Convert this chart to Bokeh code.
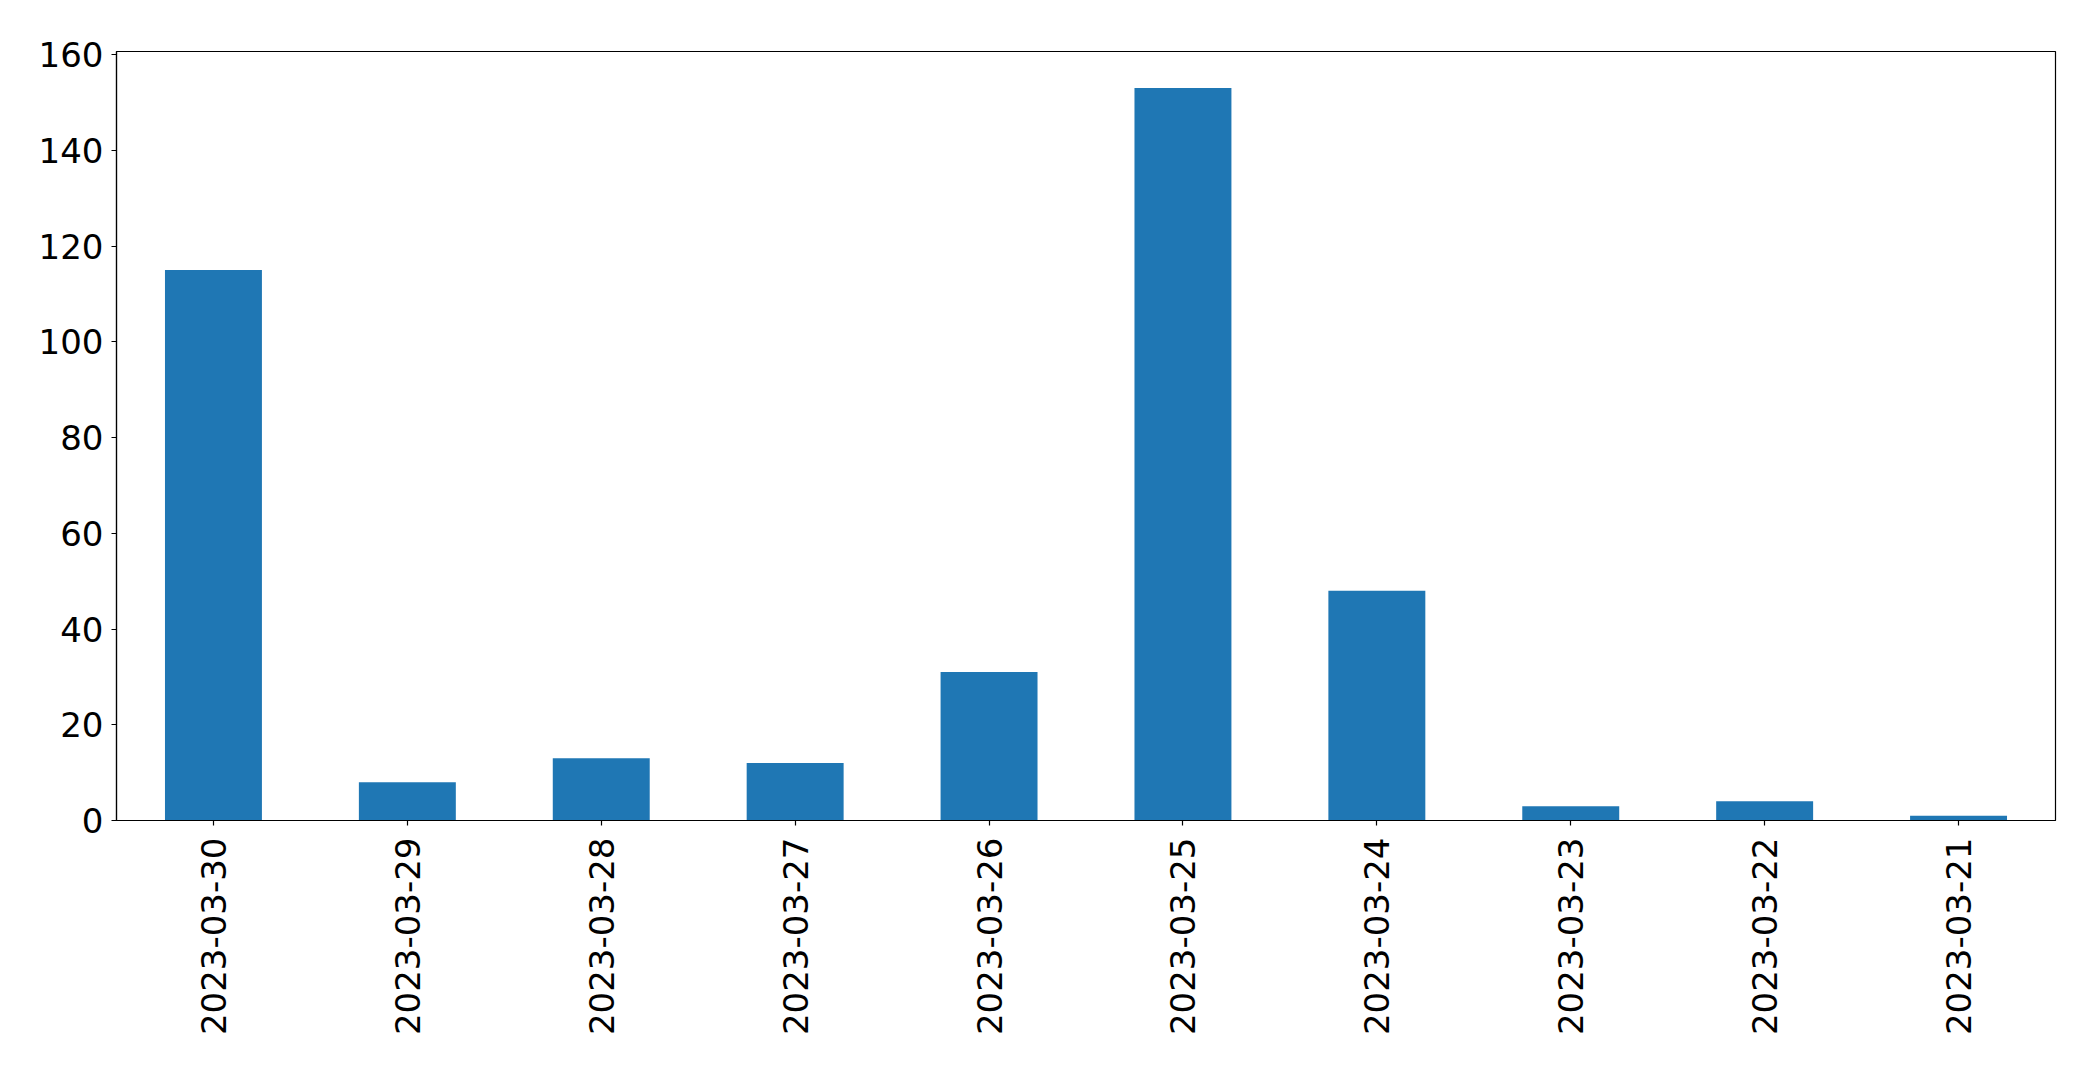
import math
from bokeh.plotting import figure
from bokeh.models import FactorRange, Range1d, FixedTicker, ColumnDataSource
from bokeh.embed import file_html
from bokeh.resources import INLINE

dates = ["2023-03-30", "2023-03-29", "2023-03-28", "2023-03-27", "2023-03-26",
         "2023-03-25", "2023-03-24", "2023-03-23", "2023-03-22", "2023-03-21"]
counts = [115, 8, 13, 12, 31, 153, 48, 3, 4, 1]
y_ticks = [0, 20, 40, 60, 80, 100, 120, 140, 160]

src = ColumnDataSource(dict(x=dates, top=counts))

p = figure(width=2077, height=1056, output_backend="svg", toolbar_location=None,
           x_range=FactorRange(*dates, range_padding=0),
           y_range=Range1d(0, max(counts) * 1.05),
           min_border_left=116, min_border_top=51, min_border_right=22, min_border_bottom=236)

p.vbar(x="x", top="top", width=0.5, source=src, color="#1f77b4", line_color=None)

p.xgrid.visible = False
p.ygrid.visible = False
p.outline_line_color = "black"
p.outline_line_width = 1.2
p.outline_line_alpha = 1

p.yaxis.ticker = FixedTicker(ticks=y_ticks)
for ax in (p.xaxis, p.yaxis):
    ax.axis_line_color = "black"
    ax.axis_line_width = 1.2
    ax.major_tick_line_color = "black"
    ax.major_tick_line_width = 1.2
    ax.major_tick_out = 5
    ax.major_tick_in = 0
    ax.minor_tick_line_color = None
    ax.major_label_text_font = "DejaVu Sans"
    ax.major_label_text_font_size = "34px"
    ax.major_label_text_color = "black"

p.xaxis.major_label_orientation = math.pi / 2
p.xaxis.major_label_standoff = 12
p.yaxis.major_label_standoff = 8

open("out.html", "w").write(file_html(p, INLINE))
